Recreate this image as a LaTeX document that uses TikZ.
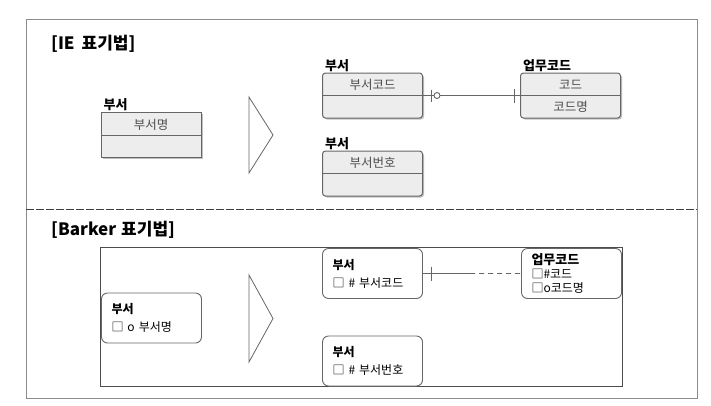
\documentclass[tikz,border=0pt]{standalone}
\usepackage{fontspec}
\setmainfont{Noto Sans CJK KR}
\usetikzlibrary{positioning}
\usetikzlibrary{calc}
\usetikzlibrary{shadows}
\definecolor{framegray}{rgb}{0.55,0.55,0.55}
\definecolor{boxline}{rgb}{0.4,0.4,0.4}
\definecolor{boxfill}{rgb}{0.93,0.93,0.93}
\definecolor{attrtext}{rgb}{0.3,0.3,0.3}

\begin{document}
\begin{tikzpicture}[x=1pt,y=-1pt,
    title/.style={anchor=west,inner sep=0pt,font=\fontsize{17}{20}\selectfont\bfseries},
    entname/.style={anchor=south west,inner sep=0pt,font=\fontsize{13}{15}\selectfont\bfseries},
    iebox/.style={draw=boxline,line width=1pt,fill=boxfill,minimum width=100pt,minimum height=45pt,inner sep=0pt,
        drop shadow={shadow xshift=1.5pt,shadow yshift=-1.5pt,opacity=0.5}},
    attr/.style={inner sep=0pt,text=attrtext,font=\fontsize{12.5}{14}\selectfont},
    bkbox/.style={draw=boxline,line width=0.9pt,fill=white,rounded corners=6pt,minimum width=100pt,minimum height=50pt,
        text width=80pt,align=left,inner xsep=10pt,font=\fontsize{12}{18}\selectfont},
    relline/.style={draw=boxline,line width=0.9pt}]

    \useasboundingbox (0,0) rectangle (711,405);

    % draw frame and divider
    \draw[framegray,line width=1pt] (26,19) rectangle (697,398);
    \draw[black!75,line width=1pt,dash pattern=on 8pt off 2pt] (26,209) -- (697,209);

    % draw titles
    \node[title] (ietitle) at (51,44) {[IE\hspace{7pt}표기법]};
    \node[title] (bktitle) at (51,230) {[Barker\hspace{5pt}표기법]};

    % draw triangles
    \foreach \ta/\tb in {97/173,275/362}
        \draw[boxline,line width=0.8pt,fill=white] (249,\ta) -- (273,{(\ta+\tb)/2}) -- (249,\tb) -- cycle;

    % draw IE entities
    \node[iebox] (ieone) at (151,135) {};
    \node[iebox,rounded corners=3pt] (iedept) at (372.5,95.5) {};
    \node[iebox,rounded corners=3pt] (iedeptno) at (372.5,173.5) {};
    \node[iebox,rounded corners=3pt] (iecode) at (570.5,95.5) {};
    \foreach \n in {ieone,iedept,iedeptno,iecode}
        \draw[boxline,line width=0.9pt] (\n.west) -- (\n.east);

    \node[entname] (ieonelabel) at ([xshift=3pt,yshift=1pt]ieone.north west) {부서};
    \node[entname] (iedeptlabel) at ([xshift=3pt,yshift=1pt]iedept.north west) {부서};
    \node[entname] (iedeptnolabel) at ([xshift=3pt,yshift=1pt]iedeptno.north west) {부서};
    \node[entname] (iecodelabel) at ([xshift=3pt,yshift=1pt]iecode.north west) {업무코드};

    \node[attr] (ieoneattr) at ([yshift=10pt]ieone.center) {부서명};
    \node[attr] (iedeptattr) at ([yshift=11pt]iedept.center) {부서코드};
    \node[attr] (iedeptnoattr) at ([yshift=11pt]iedeptno.center) {부서번호};
    \node[attr] (iecodeattr) at ([yshift=11pt]iecode.center) {코드};
    \node[attr] (iecodename) at ([yshift=-11pt]iecode.center) {코드명};

    % draw IE relationship
    \draw[relline] (iedept.east) -- (iecode.west);
    \draw[relline] ([xshift=8pt]iedept.east) ++(0,-6) -- ++(0,12);
    \draw[relline,fill=white] ([xshift=14pt]iedept.east) circle (3pt);
    \draw[relline] ([xshift=-6pt]iecode.west) ++(0,-7) -- ++(0,14);

    % draw Barker frame and entities
    \draw[black!70,line width=1pt] (100,247) rectangle (622,386);

    \node[bkbox] (bkone) at (151.5,318) {\textbf{부서}\\□ o 부서명};
    \node[bkbox] (bkdept) at (372.5,273.5) {\textbf{부서}\\□ \# 부서코드};
    \node[bkbox] (bkdeptno) at (372.5,361) {\textbf{부서}\\□ \# 부서번호};
    \node[bkbox,font=\fontsize{12}{14}\selectfont,inner ysep=2pt] (bkcode) at (571.5,273.5)
        {{\fontsize{13}{14}\selectfont\textbf{업무코드}}\\□\#코드\\□o코드명};

    % draw Barker relationship
    \coordinate (bkmid) at ($(bkdept.east)!0.48!(bkcode.west)$);
    \draw[relline] (bkdept.east) -- (bkmid);
    \draw[relline,dash pattern=on 5pt off 4pt] (bkmid) -- (bkcode.west);
    \draw[relline] ([xshift=8pt]bkdept.east) ++(0,-7) -- ++(0,14);
\end{tikzpicture}
\end{document}
